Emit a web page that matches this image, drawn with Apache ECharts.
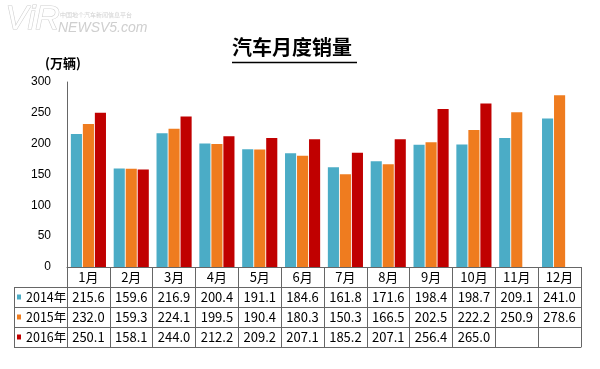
<!DOCTYPE html>
<html>
<head>
<meta charset="utf-8">
<script src="https://cdn.jsdelivr.net/npm/echarts@6/dist/echarts.min.js"></script>
<style>html,body{margin:0;padding:0;background:#fff}#c{width:600px;height:369px}</style>
</head>
<body>
<div id="c"></div>
<script>
var months = ['1月','2月','3月','4月','5月','6月','7月','8月','9月','10月','11月','12月'];
var seriesNames = ['2014年','2015年','2016年'];
var sales2014 = [215.6,159.6,216.9,200.4,191.1,184.6,161.8,171.6,198.4,198.7,209.1,241.0];
var sales2015 = [232.0,159.3,224.1,199.5,190.4,180.3,150.3,166.5,202.5,222.2,250.9,278.6];
var sales2016 = [250.1,158.1,244.0,212.2,209.2,207.1,185.2,207.1,256.4,265.0,null,null];
var yTicks = [0,50,100,150,200,250,300];

var colors = ['#4bacc6','#ef7c1f','#c00000'];
var allData = [sales2014, sales2015, sales2016];
var lineCol = '#666';
var tableFont = '"Noto Sans CJK JP", "Noto Sans", sans-serif';

var chart = echarts.init(document.getElementById('c'), null, {renderer:'canvas'});

function fmt(arr){
  return function(v, i){ var x = arr[i]; return (x === null || x === undefined) ? '' : x.toFixed(1); };
}

var xAxes = [{
  type:'category', data: months, position:'bottom', gridIndex:0,
  axisLine:{show:true, lineStyle:{color:lineCol, width:1}},
  axisTick:{show:true, length:80, lineStyle:{color:lineCol, width:1}},
  axisLabel:{interval:0, margin:10, verticalAlign:'middle', color:'#000', fontSize:13, fontFamily:tableFont}
}];
for (var k = 0; k < 3; k++) {
  xAxes.push({
    type:'category', data: months, position:'bottom', offset: 20*(k+1), gridIndex:0,
    axisLine:{show:true, lineStyle:{color:lineCol, width:1}},
    axisTick:{show:false},
    axisLabel:{interval:0, margin:10, verticalAlign:'middle', color:'#000', fontSize:13, fontFamily:tableFont, formatter: fmt(allData[k])}
  });
}
xAxes.push({
  type:'category', data: months, position:'bottom', offset: 80, gridIndex:0,
  axisLine:{show:true, lineStyle:{color:lineCol, width:1}},
  axisTick:{show:false}, axisLabel:{show:false}
});

var series = [];
for (var s = 0; s < 3; s++) {
  series.push({
    name: seriesNames[s], type:'bar', data: allData[s], xAxisIndex:0,
    itemStyle:{color: colors[s]},
    barGap:'8%', barCategoryGap:'18%', silent:true
  });
}

var option = {
  animation:false,
  backgroundColor:'#fff',
  title:{
    text:'汽车月度销量', left:232, top:37, padding:0,
    textStyle:{fontSize:20, fontWeight:'bold', color:'#000', fontFamily:'"Noto Sans CJK SC", sans-serif'}
  },
  legend:{
    orient:'vertical', left:17, top:287, itemGap:0, padding:0,
    itemWidth:4, itemHeight:5, icon:'rect',
    data: seriesNames.map(function(n, i){ return {name:n, itemStyle:{color:colors[i]}}; }),
    textStyle:{fontSize:12.5, color:'#000', lineHeight:20, fontFamily:tableFont},
    selectedMode:false
  },
  grid:{left:67, right:19, top:82, bottom:102, containLabel:false},
  xAxis: xAxes,
  yAxis:{
    type:'value', min:yTicks[0], max:yTicks[yTicks.length-1], interval:50,
    name:'(万辆)', nameLocation:'end', nameGap:12,
    nameTextStyle:{fontSize:13, fontWeight:'bold', color:'#000', padding:[0,8,0,0], fontFamily:'"Noto Sans CJK SC", sans-serif'},
    axisLine:{show:true, lineStyle:{color:lineCol, width:1}},
    axisTick:{show:false},
    splitLine:{show:false},
    axisLabel:{margin:16, color:'#000', fontSize:12, fontFamily:'"Liberation Sans", Arial, sans-serif'}
  },
  graphic:[
    {type:'line', shape:{x1:232, y1:62.5, x2:357, y2:62.5}, style:{stroke:'#000', lineWidth:1.5}, silent:true},
    {type:'line', shape:{x1:14.5, y1:287, x2:14.5, y2:347}, style:{stroke:lineCol, lineWidth:1}, silent:true},
    {type:'line', shape:{x1:14, y1:287.5, x2:67, y2:287.5}, style:{stroke:lineCol, lineWidth:1}, silent:true},
    {type:'line', shape:{x1:14, y1:307.5, x2:67, y2:307.5}, style:{stroke:lineCol, lineWidth:1}, silent:true},
    {type:'line', shape:{x1:14, y1:327.5, x2:67, y2:327.5}, style:{stroke:lineCol, lineWidth:1}, silent:true},
    {type:'line', shape:{x1:14, y1:347.5, x2:67, y2:347.5}, style:{stroke:lineCol, lineWidth:1}, silent:true},
    {type:'text', left:5, top:2, silent:true, style:{text:'ViR', fontSize:34, fontStyle:'italic', fontFamily:'"Liberation Sans", sans-serif', fill:'#fff', stroke:'#d0d0d0', lineWidth:1.2}},
    {type:'text', left:60, top:12, silent:true, style:{text:'中国地个汽车新闻信息平台', fontSize:6, fill:'#d0d0d0', fontFamily:'"Noto Sans CJK SC", sans-serif'}},
    {type:'text', left:58, top:21, silent:true, style:{text:'NEWSV5.com', fontSize:14, fontStyle:'italic', fill:'#cfcfcf', fontFamily:'"Liberation Sans", sans-serif'}}
  ],
  series: series
};
chart.setOption(option);
</script>
</body>
</html>
